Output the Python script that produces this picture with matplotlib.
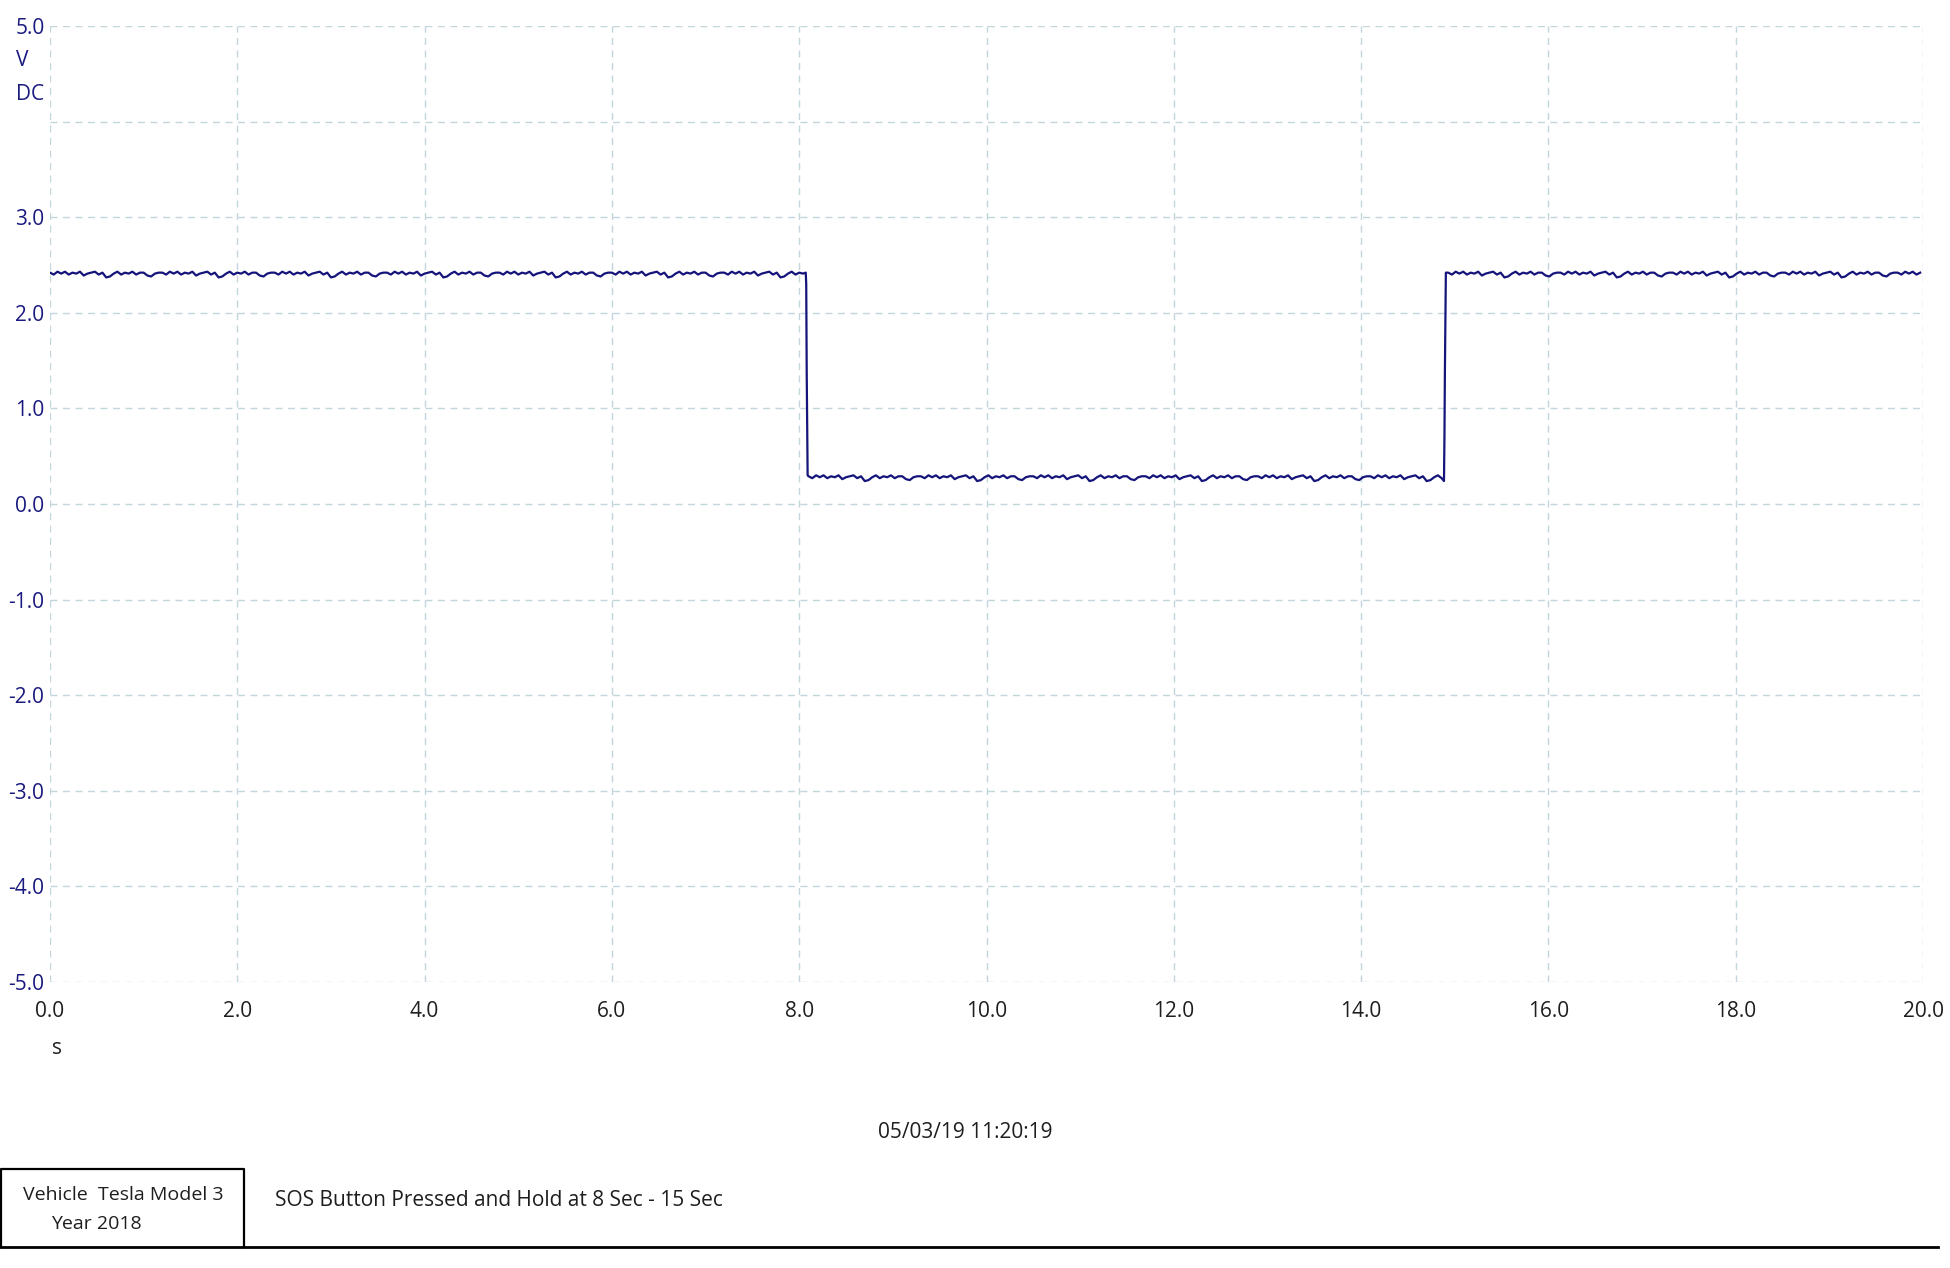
import numpy as np
import matplotlib
matplotlib.use("Agg")
import matplotlib.pyplot as plt
from matplotlib.lines import Line2D

plt.rcParams['font.family'] = ['Open Sans', 'DejaVu Sans']

# Voltage trace levels
high_level = 2.40
low_level = 0.27
fall_time = 8.07
rise_time = 14.90
end_time = 20.0
# transition samples (time, volts)
fall_t = [8.07, 8.075, 8.08, 8.085, 8.09]
fall_v = [2.42, 2.30, 1.40, 0.90, 0.30]
rise_t = [14.885, 14.89, 14.895, 14.90, 14.905]
rise_v = [0.24, 0.70, 1.40, 1.93, 2.42]
# ripple on the trace (offsets in volts, one per 0.04 s, repeating)
ripple = [0.02, 0.00, 0.03, 0.01, 0.03, 0.00, 0.02, 0.01, 0.03, -0.01,
          0.01, 0.02, 0.03, 0.00, 0.02, -0.03, -0.02, 0.01, 0.03, 0.00,
          0.02, 0.01, 0.03, 0.00, 0.02, 0.02, -0.01, -0.02, 0.01, 0.02]
ripple_step = 0.04

x_ticks = [0, 2, 4, 6, 8, 10, 12, 14, 16, 18, 20]
y_ticks = [5, 4, 3, 2, 1, 0, -1, -2, -3, -4, -5]
y_labels = ["5.0", "", "3.0", "2.0", "1.0", "0.0", "-1.0", "-2.0", "-3.0", "-4.0", "-5.0"]

date_text = "05/03/19 11:20:19"
vehicle_text = "Vehicle  Tesla Model 3"
year_text = "Year 2018"
note_text = "SOS Button Pressed and Hold at 8 Sec - 15 Sec"


def segment(t0, t1, level):
    ts = np.arange(t0, t1, ripple_step)
    vs = [level + ripple[i % len(ripple)] for i in range(len(ts))]
    return list(ts), vs


t1, v1 = segment(0.0, fall_time, high_level)
t2, v2 = segment(fall_time + 0.03, rise_time - 0.02, low_level)
t3, v3 = segment(rise_time + 0.03, end_time + 0.001, high_level)
t_all = t1 + fall_t + t2 + rise_t + t3
v_all = v1 + fall_v + v2 + rise_v + v3

W, H = 1950, 1268
fig = plt.figure(figsize=(W / 100, H / 100), dpi=100)
ax = fig.add_axes([50 / W, 1 - 982 / H, (1923 - 50) / W, (982 - 26) / H])

navy = "#1a1a80"
ax.plot(t_all, v_all, color="#14147a", lw=1.6)

ax.set_xlim(0, 20)
ax.set_ylim(-5, 5)
ax.set_xticks(x_ticks)
ax.set_xticklabels([f"{x:.1f}" for x in x_ticks])
ax.set_yticks(y_ticks)
ax.set_yticklabels(y_labels)
ax.tick_params(axis="x", length=0, pad=14, labelsize=15, labelcolor="#1e1e1e")
ax.tick_params(axis="y", length=0, pad=4, labelsize=15, labelcolor=navy)
ax.grid(True, color="#c3d6dc", lw=1.0, ls=(0, (5, 4)))
ax.set_axisbelow(True)
for s in ax.spines.values():
    s.set_visible(False)

# unit labels
fig.text(16 / W, 1 - 60 / H, "V", color=navy, fontsize=15, ha="left", va="center")
fig.text(16 / W, 1 - 94 / H, "DC", color=navy, fontsize=15, ha="left", va="center")
fig.text(57 / W, 1 - 1048 / H, "s", color="#1e1e1e", fontsize=15, ha="center", va="center")

# date stamp
fig.text(965 / W, 1 - 1132 / H, date_text, color="#1e1e1e", fontsize=15, ha="center", va="center")

# footer box
def fline(xs, ys, lw):
    fig.add_artist(Line2D([x / W for x in xs], [1 - y / H for y in ys],
                          color="black", lw=lw, transform=fig.transFigure))

fline([1, 1, 244, 244], [1247, 1169, 1169, 1247], 1.6)
fline([0, 1938], [1247, 1247], 2.0)
fig.text(123 / W, 1 - 1195 / H, vehicle_text, color="#1e1e1e", fontsize=14, ha="center", va="center")
fig.text(96 / W, 1 - 1224 / H, year_text, color="#1e1e1e", fontsize=14, ha="center", va="center")
fig.text(275 / W, 1 - 1201 / H, note_text, color="#1e1e1e", fontsize=15, ha="left", va="center")

fig.savefig("out.png", dpi=100)
